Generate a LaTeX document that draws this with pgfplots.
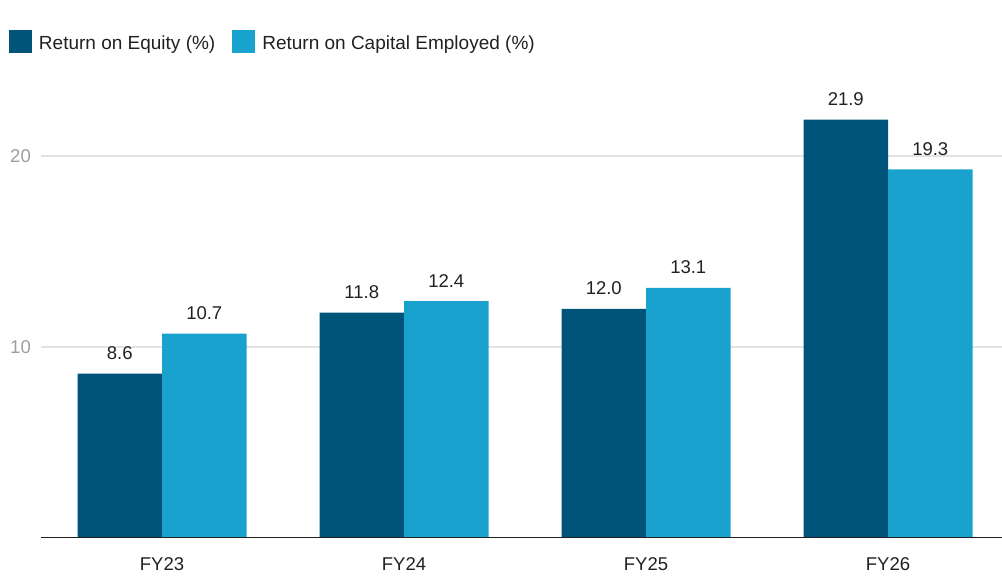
\documentclass[border=0pt]{standalone}
\usepackage{fontspec}
\setmainfont{Liberation Sans}
\usepackage{pgfplots}
\pgfplotsset{compat=1.18}
\definecolor{roe}{HTML}{00547A}
\definecolor{roce}{HTML}{1AA2CE}
\definecolor{txt}{HTML}{212121}
\definecolor{tickgray}{HTML}{9E9E9E}
\definecolor{gridc}{HTML}{E3E3E3}
\pgfplotsset{sq/.style={legend image code/.code={\fill[#1] (0bp,-3.5bp) rectangle (23bp,20bp); \path (28bp,0bp);}}}
\begin{document}
\begin{tikzpicture}
\useasboundingbox (-41bp,-39bp) rectangle (961bp,538bp);
\begin{axis}[
 at={(0,0)}, anchor=south west,
 scale only axis, width=961bp, height=439.3bp,
 xmin=-0.5, xmax=3.471, ymin=0, ymax=23,
 ybar=0pt, bar width=84.5bp,
 axis line style={draw=none}, tick style={draw=none},
 ytick={10,20}, ymajorgrids, grid style={gridc, line width=1.2bp},
 xtick=data, xticklabels={FY23,FY24,FY25,FY26},
 /pgf/number format/assume math mode=true,
 xticklabel style={font=\fontsize{18.5bp}{20bp}\selectfont, text=txt, anchor=north, inner sep=0pt, yshift=-15bp},
 yticklabel style={font=\fontsize{18.5bp}{20bp}\selectfont, text=tickgray, anchor=east, inner sep=0pt, xshift=-10bp},
 nodes near coords,
 nodes near coords style={/pgf/number format/fixed, /pgf/number format/fixed zerofill, /pgf/number format/precision=1, /pgf/number format/assume math mode=true},
 every node near coord/.append style={font=\fontsize{18.5bp}{20bp}\selectfont, text=txt, anchor=south, inner sep=0pt, yshift=13.5bp},
 legend columns=2,
 legend style={draw=none, fill=none, inner sep=0pt, outer sep=0pt, column sep=0pt,
   at={(axis description cs:-0.0333,1.1566)}, anchor=north west,
   font=\fontsize{19bp}{21bp}\selectfont, text=txt,
   cells={anchor=base west},
   /tikz/every even column/.append style={column sep=15bp}},
]
\addplot[fill=roe, draw=none, sq=roe] coordinates {(0,8.6) (1,11.8) (2,12.0) (3,21.9)};
\addplot[fill=roce, draw=none, sq=roce] coordinates {(0,10.7) (1,12.4) (2,13.1) (3,19.3)};
\legend{Return on Equity (\%), Return on Capital Employed (\%)}
\draw[color=txt, line width=2bp] (rel axis cs:0,0) -- (rel axis cs:1,0);
\end{axis}
\end{tikzpicture}
\end{document}
